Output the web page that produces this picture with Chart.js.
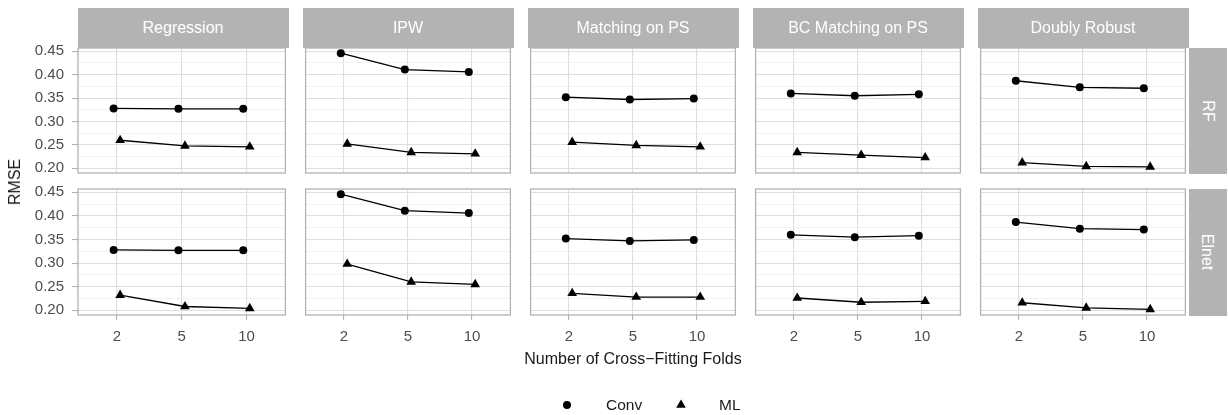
<!DOCTYPE html>
<html>
<head>
<meta charset="utf-8">
<script src="https://cdn.jsdelivr.net/npm/chart.js@4.4.1/dist/chart.umd.min.js"></script>
<style>
  html, body { margin: 0; padding: 0; background: #fff; }
  body { width: 1228px; height: 415px; position: relative; overflow: hidden; font-family: "Liberation Sans", Arial, sans-serif; }
  .box { position: absolute; }
  .strip { position: absolute; background: #b3b3b3; color: #fff; font-size: 16px; display: flex; align-items: center; justify-content: center; white-space: nowrap; }
  .strip.side span { display: inline-block; transform: rotate(90deg); }
  .label { position: absolute; color: #1a1a1a; font-size: 16px; white-space: nowrap; }
  .ytitle { transform: translate(-50%, -50%) rotate(-90deg); }
  .xtitle { transform: translate(-50%, -50%); }
  .key { position: absolute; }
  .legtext { position: absolute; font-size: 15.5px; color: #1a1a1a; transform: translateY(-50%); }
</style>
</head>
<body>
<script>
// Facet grid: method columns x learner rows, RMSE against number of folds
const methods = ['Regression', 'IPW', 'Matching on PS', 'BC Matching on PS', 'Doubly Robust'];
const learners = ['RF', 'Elnet'];
const folds = ['2', '5', '10'];
const yTicks = [0.20, 0.25, 0.30, 0.35, 0.40, 0.45];
const yTickLabels = ['0.20', '0.25', '0.30', '0.35', '0.40', '0.45'];
const yMinor = [0.225, 0.275, 0.325, 0.375, 0.425];

// one row per method, one value per fold count
const convRF = [
  [0.328, 0.327, 0.327],
  [0.446, 0.411, 0.406],
  [0.352, 0.347, 0.349],
  [0.360, 0.355, 0.358],
  [0.387, 0.373, 0.371],
];
const mlRF = [
  [0.260, 0.248, 0.246],
  [0.252, 0.234, 0.231],
  [0.256, 0.249, 0.246],
  [0.234, 0.228, 0.223],
  [0.212, 0.204, 0.203],
];
const convElnet = [
  [0.328, 0.327, 0.327],
  [0.446, 0.411, 0.406],
  [0.352, 0.347, 0.349],
  [0.360, 0.355, 0.358],
  [0.387, 0.373, 0.371],
];
const mlElnet = [
  [0.232, 0.208, 0.204],
  [0.298, 0.260, 0.255],
  [0.236, 0.228, 0.228],
  [0.226, 0.217, 0.219],
  [0.216, 0.205, 0.202],
];

const Y_MIN = 0.190, Y_MAX = 0.457;
const DODGE = 0.05;
const PANEL_LEFT = [78, 303, 528, 753, 978], PANEL_W = 210;
const ROW_TOP = [48, 189], ROW_H = [125, 126];
const STRIP_TOP = 8, STRIP_RIGHT_W = 38;
const FONT = '"Liberation Sans", Arial, sans-serif';
const GRID_MAJOR = '#dedede', GRID_MINOR = '#ececec', FRAME = '#b3b3b3', AXIS_TEXT = '#4d4d4d';

const isMajor = (v) => Math.abs(v * 20 - Math.round(v * 20)) < 1e-6;
const yGrid = yTicks.concat(yMinor).sort((a, b) => a - b);

const panelBorder = {
  id: 'panelBorder',
  beforeDatasetsDraw(chart) {
    const a = chart.chartArea, ctx = chart.ctx;
    ctx.save();
    ctx.strokeStyle = FRAME;
    ctx.lineWidth = 1.3;
    ctx.strokeRect(a.left, a.top, a.right - a.left, a.bottom - a.top);
    ctx.restore();
  },
};

function el(cls, parent) {
  const d = document.createElement('div');
  d.className = cls;
  (parent || document.body).appendChild(d);
  return d;
}

function makePanel(r, c) {
  const left = c === 0, bottom = r === 1;
  // padding is kept larger than the room the y tick labels ask for,
  // so every panel gets exactly the same plot area
  const padL = left ? 0 : 3, padR = 3, padT = 22, padB = bottom ? 0 : 22;
  const axisW = left ? 78 : 0, axisH = bottom ? 44 : 0;
  const w = padL + axisW + PANEL_W + padR;
  const h = padT + ROW_H[r] + axisH + padB;
  const box = el('box');
  box.style.left = (PANEL_LEFT[c] - axisW - padL) + 'px';
  box.style.top = (ROW_TOP[r] - padT) + 'px';
  const cv = document.createElement('canvas');
  cv.width = w; cv.height = h;
  cv.style.width = w + 'px'; cv.style.height = h + 'px';
  box.appendChild(cv);

  const conv = (r === 0 ? convRF : convElnet)[c];
  const ml = (r === 0 ? mlRF : mlElnet)[c];

  new Chart(cv.getContext('2d'), {
    type: 'line',
    data: {
      datasets: [
        { label: 'Conv', data: folds.map((f, i) => ({ x: i + 1 - DODGE, y: conv[i] })),
          borderColor: '#000', borderWidth: 1.3, pointStyle: 'circle', pointRadius: 4,
          pointBackgroundColor: '#000', pointBorderColor: '#000', pointBorderWidth: 0, tension: 0 },
        { label: 'ML', data: folds.map((f, i) => ({ x: i + 1 + DODGE, y: ml[i] })),
          borderColor: '#000', borderWidth: 1.3, pointStyle: 'triangle', pointRadius: 5.6,
          pointBackgroundColor: '#000', pointBorderColor: '#000', pointBorderWidth: 0, tension: 0 },
      ],
    },
    options: {
      responsive: false, animation: false, events: [],
      layout: { padding: { left: padL, right: padR, top: padT, bottom: padB } },
      plugins: { legend: { display: false }, tooltip: { enabled: false } },
      scales: {
        x: {
          type: 'linear', min: 0.4, max: 3.6,
          afterBuildTicks: (s) => { s.ticks = folds.map((f, i) => ({ value: i + 1 })); },
          afterFit: (s) => { s.height = axisH; },
          border: { display: false },
          grid: { color: GRID_MAJOR, lineWidth: 1.1, drawTicks: bottom, tickLength: 5, tickColor: FRAME, tickWidth: 1.1 },
          ticks: { display: bottom, autoSkip: false, maxRotation: 0, padding: 8, color: AXIS_TEXT,
                   font: { family: FONT, size: 15 }, callback: (v) => folds[Math.round(v) - 1] },
        },
        y: {
          type: 'linear', min: Y_MIN, max: Y_MAX,
          afterBuildTicks: (s) => { s.ticks = yGrid.map((v) => ({ value: v })); },
          afterFit: (s) => { s.width = axisW; },
          border: { display: false },
          grid: {
            color: (ctx) => isMajor(ctx.tick.value) ? GRID_MAJOR : GRID_MINOR,
            lineWidth: (ctx) => isMajor(ctx.tick.value) ? 1.1 : 0.7,
            drawTicks: left, tickLength: 6, tickWidth: 1.1,
            tickColor: (ctx) => isMajor(ctx.tick.value) ? FRAME : 'rgba(0,0,0,0)',
          },
          ticks: { display: left, autoSkip: false, padding: 8, color: AXIS_TEXT,
                   font: { family: FONT, size: 15 },
                   callback: (v) => {
                     const k = yTicks.findIndex((t) => Math.abs(t - v) < 1e-6);
                     return k < 0 ? '' : yTickLabels[k];
                   } },
        },
      },
    },
    plugins: [panelBorder],
  });
}

for (let r = 0; r < learners.length; r++) {
  for (let c = 0; c < methods.length; c++) makePanel(r, c);
}

// column strips
methods.forEach((m, c) => {
  const s = el('strip');
  s.style.left = (PANEL_LEFT[c] - 0.5) + 'px';
  s.style.top = STRIP_TOP + 'px';
  s.style.width = (PANEL_W + 1) + 'px';
  s.style.height = (ROW_TOP[0] - STRIP_TOP) + 'px';
  s.textContent = m;
});

// row strips
learners.forEach((l, r) => {
  const s = el('strip side');
  s.style.left = (PANEL_LEFT[4] + PANEL_W + 0.5) + 'px';
  s.style.top = (ROW_TOP[r] - 0.5) + 'px';
  s.style.width = STRIP_RIGHT_W + 'px';
  s.style.height = (ROW_H[r] + 1) + 'px';
  const t = document.createElement('span');
  t.textContent = l;
  s.appendChild(t);
});

// axis titles
const yt = el('label ytitle');
yt.textContent = 'RMSE';
yt.style.left = '15px';
yt.style.top = ((ROW_TOP[0] + ROW_TOP[1] + ROW_H[1]) / 2) + 'px';

const xt = el('label xtitle');
xt.textContent = 'Number of Cross\u2212Fitting Folds';
xt.style.left = ((PANEL_LEFT[0] + PANEL_LEFT[4] + PANEL_W) / 2) + 'px';
xt.style.top = '359px';

// legend
const LEG_Y = 405;
const svgNS = 'http://www.w3.org/2000/svg';
function key(x, shape) {
  const svg = document.createElementNS(svgNS, 'svg');
  svg.setAttribute('width', 14); svg.setAttribute('height', 14);
  svg.setAttribute('class', 'key');
  svg.style.left = (x - 7) + 'px';
  svg.style.top = (LEG_Y - 7) + 'px';
  let p;
  if (shape === 'circle') {
    p = document.createElementNS(svgNS, 'circle');
    p.setAttribute('cx', 7); p.setAttribute('cy', 7); p.setAttribute('r', 4);
  } else {
    p = document.createElementNS(svgNS, 'polygon');
    p.setAttribute('points', '7,1.4 11.85,9.8 2.15,9.8');
  }
  p.setAttribute('fill', '#000');
  svg.appendChild(p);
  document.body.appendChild(svg);
}
function legText(x, t) {
  const d = el('legtext');
  d.style.left = x + 'px';
  d.style.top = LEG_Y + 'px';
  d.textContent = t;
}
key(566.5, 'circle');
legText(606, 'Conv');
key(681, 'triangle');
legText(719, 'ML');
</script>
</body>
</html>
